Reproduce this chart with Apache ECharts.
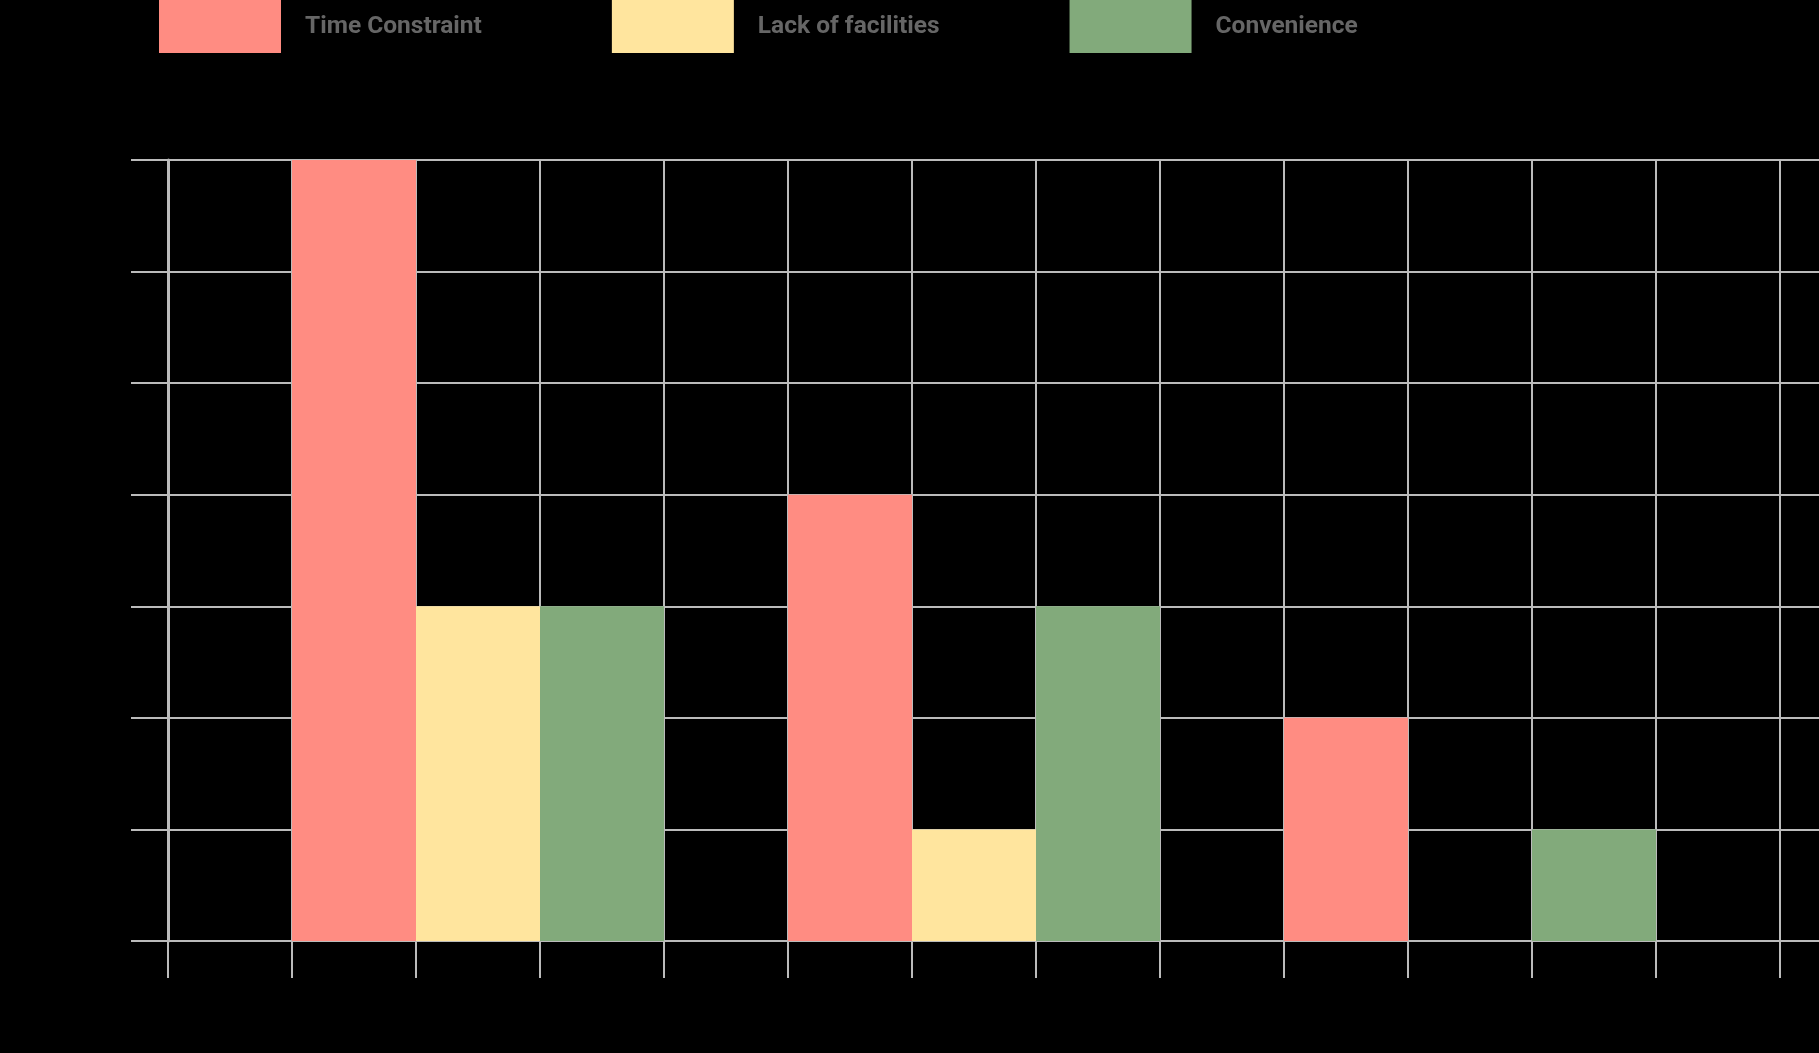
<!DOCTYPE html>
<html>
<head>
<meta charset="utf-8">
<script src="https://cdn.jsdelivr.net/npm/echarts@6/dist/echarts.min.js"></script>
<style>
html,body{margin:0;padding:0;background:#000;}
#chart{width:1819px;height:1053px;}
</style>
</head>
<body>
<div id="chart"></div>
<script>
// Series names
const seriesNames = ['Time Constraint', 'Lack of facilities', 'Convenience'];
// Values per group (3 groups)
const timeConstraint = [7, 4, 2];
const lackOfFacilities = [3, 1, 0];
const convenience = [3, 3, 1];
// Y ticks
const yTicks = [0, 1, 2, 3, 4, 5, 6, 7];
const colors = ['#ff8c82', '#ffe59e', '#82aa7b'];

// Each group occupies 4 slots (gap + 3 bars); 13 slots in all
const slotCount = 13;
const slots = Array.from({length: slotCount}, (_, i) => 'slot' + i);
function toSlots(vals, s) {
  const arr = new Array(slotCount).fill('-');
  vals.forEach((v, g) => { arr[1 + 4 * g + s] = v; });
  return arr;
}
const allValues = [timeConstraint, lackOfFacilities, convenience];

const grid = '#bbbbbb';
const yMin = yTicks[0], yMax = yTicks[yTicks.length - 1];
const chart = echarts.init(document.getElementById('chart'));
chart.setOption({
  backgroundColor: '#000',
  animation: false,
  legend: {
    left: 159, top: 0, padding: 0,
    icon: 'rect', itemWidth: 122, itemHeight: 53, itemGap: 130,
    textStyle: {color: '#666', fontFamily: 'Roboto', fontWeight: 'bold', fontSize: 24.5, padding: [12, 0, 0, 19]},
    data: seriesNames
  },
  grid: [
    {left: 168, right: 39, top: 160, bottom: 112, containLabel: false},
    {left: 1780, right: 0, top: 160, bottom: 112, containLabel: false}
  ],
  xAxis: [{
    type: 'category', data: slots, boundaryGap: true, gridIndex: 0,
    axisLine: {show: true, lineStyle: {color: grid, width: 2}},
    axisTick: {show: true, length: 37, interval: 0, lineStyle: {color: grid, width: 2}},
    axisLabel: {show: false},
    splitLine: {show: true, interval: 0, lineStyle: {color: grid, width: 2}}
  }, {
    type: 'value', gridIndex: 1, show: false
  }],
  yAxis: [{
    type: 'value', min: yMin, max: yMax, interval: 1, gridIndex: 0,
    axisLine: {show: true, lineStyle: {color: grid, width: 3}},
    axisTick: {show: true, length: 37, lineStyle: {color: grid, width: 2}},
    axisLabel: {show: false},
    splitLine: {show: true, lineStyle: {color: grid, width: 2}}
  }, {
    type: 'value', min: yMin, max: yMax, interval: 1, gridIndex: 1,
    axisLine: {show: false}, axisTick: {show: false}, axisLabel: {show: false},
    splitLine: {show: true, lineStyle: {color: grid, width: 2}}
  }],
  series: seriesNames.map((name, s) => ({
    name, type: 'bar', data: toSlots(allValues[s], s),
    xAxisIndex: 0, yAxisIndex: 0,
    barWidth: '100%', barGap: '-100%',
    itemStyle: {color: colors[s]}, z: 1
  }))
});
</script>
</body>
</html>
